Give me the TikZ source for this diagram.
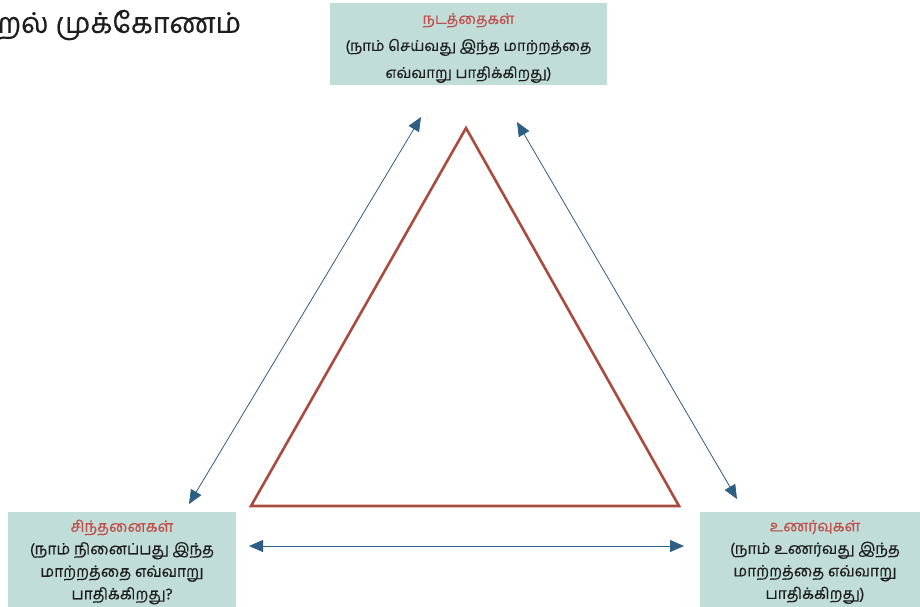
\documentclass[tikz,border=0pt]{standalone}
\usepackage{fontspec}
\newfontfamily\tamil[Script=Tamil,FakeBold=0.4]{Hind Madurai}
\usetikzlibrary{arrows.meta}

\begin{document}
\begin{tikzpicture}
	[x=1pt,y=-1pt,line cap=round,
	%Styles
	box/.style={fill=boxfill,inner sep=0pt,align=center,text=textdark,
		font=\tamil\fontsize{15.5}{22.5}\selectfont},
	head/.style={text=headred},
	link/.style={linkblue,line width=0.8pt,
		{Triangle[length=14pt,width=12pt]}-{Triangle[length=14pt,width=12pt]}},
	triangle line/.style={trired,line width=2.6pt,line join=miter,line cap=butt}
	]
	
	%Colors
	\definecolor{boxfill}{HTML}{C0DDD8}
	\definecolor{headred}{HTML}{C0504D}
	\definecolor{textdark}{HTML}{1E1E1E}
	\definecolor{linkblue}{HTML}{2D5F85}
	\definecolor{trired}{HTML}{A94C3F}
	
	%The graphic
	\useasboundingbox (0,0) rectangle (920,606);
	
	\node[anchor=west,text=textdark,font=\tamil\fontsize{28.5}{32}\selectfont] (title) at (-6,25) {றல் முக்கோணம்};
	
	\fill[boxfill] (330,3) rectangle (607,85);
	\node[box,fill=none,font=\tamil\fontsize{15}{27}\selectfont] (behav) at (468.5,48)
		{\textcolor{headred}{நடத்தைகள்}\\(நாம் செய்வது இந்த மாற்றத்தை\\எவ்வாறு பாதிக்கிறது)};
	\node[box,minimum width=228pt,minimum height=100pt] (thought) at (122,562)
		{\textcolor{headred}{சிந்தனைகள்}\\(நாம் நினைப்பது இந்த\\மாற்றத்தை எவ்வாறு\\பாதிக்கிறது?};
	\node[box,minimum width=230pt,minimum height=100pt] (feel) at (815,562)
		{\textcolor{headred}{உணர்வுகள்}\\(நாம் உணர்வது இந்த\\மாற்றத்தை எவ்வாறு\\பாதிக்கிறது)};
	
	\coordinate (apex) at (466,128);
	\coordinate (baseL) at (251,506);
	\coordinate (baseR) at (679,506);
	\draw[triangle line] (apex) -- (baseR) -- (baseL) -- cycle;
	
	\coordinate (behavL) at (421,117);
	\coordinate (thoughtT) at (189,504);
	\coordinate (behavR) at (517,122);
	\coordinate (feelT) at (737,499);
	\coordinate (thoughtR) at (249,546);
	\coordinate (feelL) at (684,546);
	
	\draw[link] (behavL) -- (thoughtT);
	\draw[link] (behavR) -- (feelT);
	\draw[link] (thoughtR) -- (feelL);
\end{tikzpicture}
\end{document}
